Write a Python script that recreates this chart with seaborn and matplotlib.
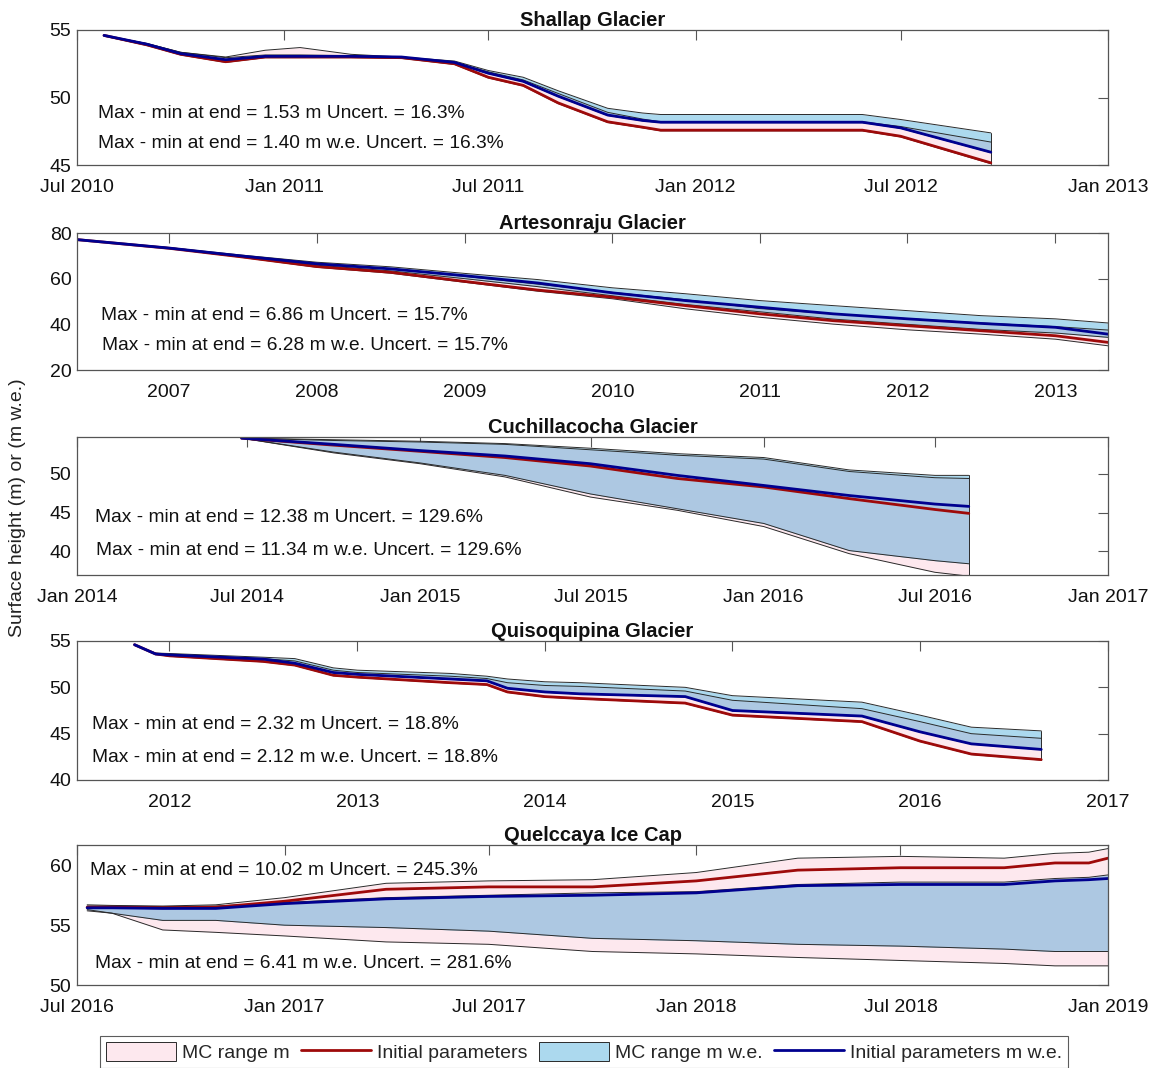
import numpy as np
import pandas as pd
import matplotlib
matplotlib.use("Agg")
import matplotlib.pyplot as plt
import matplotlib.dates as mdates
from matplotlib.patches import Patch
from matplotlib.lines import Line2D
import seaborn as sns

sns.set_theme(style="white")
plt.rcParams["font.family"] = ["Liberation Sans", "DejaVu Sans"]

# ---------------- data ----------------
# Shallap Glacier
shallap_dates = ["2010-07-25", "2010-09-01", "2010-10-01", "2010-11-10", "2010-12-15", "2011-01-15",
                 "2011-03-01", "2011-04-15", "2011-06-01", "2011-07-01", "2011-08-01", "2011-09-01",
                 "2011-10-15", "2011-11-15", "2011-12-01", "2012-05-28", "2012-07-01", "2012-09-19"]
shallap_m_init = [54.6, 53.9, 53.2, 52.65, 53.0, 53.0, 53.0, 52.95, 52.5, 51.5, 50.9, 49.6, 48.2, 47.8, 47.58, 47.58, 47.13, 45.16]
shallap_m_lo = [54.55, 53.85, 53.15, 52.6, 52.95, 52.95, 52.95, 52.9, 52.45, 51.45, 50.85, 49.55, 48.15, 47.75, 47.53, 47.53, 47.08, 45.1]
shallap_m_hi = [54.6, 54.0, 53.35, 53.0, 53.5, 53.7, 53.2, 53.0, 52.6, 51.9, 51.3, 50.3, 48.9, 48.4, 48.2, 48.2, 47.85, 46.7]
shallap_mwe_init = [54.6, 53.95, 53.25, 52.8, 53.05, 53.05, 53.05, 53.0, 52.6, 51.8, 51.2, 50.1, 48.7, 48.3, 48.17, 48.17, 47.75, 45.95]
shallap_mwe_lo = [54.57, 53.92, 53.22, 52.77, 53.02, 53.02, 53.02, 52.97, 52.57, 51.77, 51.17, 50.07, 48.67, 48.27, 48.14, 48.14, 47.72, 45.92]
shallap_mwe_hi = [54.6, 54.0, 53.35, 52.95, 53.15, 53.15, 53.1, 53.0, 52.7, 52.0, 51.5, 50.5, 49.2, 48.85, 48.74, 48.74, 48.37, 47.38]

# Artesonraju Glacier
artes_dates = ["2006-05-18", "2007-01-01", "2007-07-01", "2008-01-01", "2008-07-01", "2009-01-01", "2009-07-01",
               "2010-01-01", "2010-07-01", "2011-01-01", "2011-07-01", "2012-01-01", "2012-07-01", "2013-01-01", "2013-05-11"]
artes_m_init = [77.1, 73.3, 69.5, 65.3, 62.8, 58.8, 55.0, 51.9, 48.2, 44.6, 41.6, 39.4, 37.2, 35.0, 32.1]
artes_m_lo = [77.1, 73.2, 69.3, 65.0, 62.4, 58.4, 54.5, 51.2, 46.8, 43.1, 40.1, 37.6, 35.7, 33.5, 30.6]
artes_m_hi = [77.1, 73.5, 70.0, 66.8, 64.3, 61.0, 57.6, 54.0, 50.8, 46.9, 44.6, 42.5, 40.6, 39.0, 37.5]
artes_mwe_init = [77.1, 73.4, 69.9, 66.5, 64.3, 61.3, 58.1, 53.8, 50.4, 47.5, 44.6, 42.4, 40.4, 38.7, 35.7]
artes_mwe_lo = [77.1, 73.3, 69.6, 65.9, 63.4, 60.0, 56.5, 52.5, 48.7, 45.5, 42.3, 40.0, 37.8, 36.2, 34.3]
artes_mwe_hi = [77.1, 73.6, 70.3, 67.2, 65.2, 62.3, 59.6, 56.0, 53.4, 50.4, 48.2, 46.0, 43.8, 42.4, 40.6]

# Cuchillacocha Glacier
cuchi_dates = ["2014-06-25", "2014-10-01", "2015-01-01", "2015-04-01", "2015-07-01", "2015-10-01",
               "2016-01-01", "2016-04-01", "2016-07-01", "2016-08-06"]
cuchi_m_init = [54.6, 53.7, 52.9, 52.1, 51.0, 49.4, 48.3, 46.8, 45.4, 44.9]
cuchi_m_lo = [54.6, 52.7, 51.3, 49.6, 47.0, 45.3, 43.2, 39.7, 37.3, 36.8]
cuchi_m_hi = [54.6, 54.3, 54.1, 53.8, 53.1, 52.4, 51.9, 50.3, 49.5, 49.4]
cuchi_mwe_init = [54.6, 53.8, 53.0, 52.3, 51.3, 49.8, 48.5, 47.2, 46.1, 45.8]
cuchi_mwe_lo = [54.6, 52.8, 51.4, 49.8, 47.4, 45.5, 43.6, 40.1, 38.8, 38.4]
cuchi_mwe_hi = [54.6, 54.4, 54.2, 53.9, 53.3, 52.6, 52.1, 50.5, 49.8, 49.8]

# Quisoquipina Glacier
quiso_dates = ["2011-10-25", "2011-12-05", "2012-01-01", "2012-07-01", "2012-09-01", "2012-11-15",
               "2013-01-01", "2013-07-01", "2013-09-10", "2013-10-20", "2014-01-01", "2014-03-10",
               "2014-10-01", "2015-01-01", "2015-09-10", "2016-01-01", "2016-04-10", "2016-08-24"]
quiso_m_init = [54.6, 53.6, 53.4, 52.8, 52.4, 51.3, 51.1, 50.5, 50.3, 49.5, 49.0, 48.8, 48.3, 47.0, 46.3, 44.2, 42.8, 42.2]
quiso_m_lo = [54.55, 53.55, 53.35, 52.75, 52.35, 51.25, 51.05, 50.45, 50.25, 49.45, 48.95, 48.75, 48.25, 46.95, 46.25, 44.15, 42.75, 42.15]
quiso_m_hi = [54.6, 53.65, 53.55, 53.1, 52.85, 51.85, 51.6, 51.2, 50.95, 50.5, 50.2, 50.1, 49.6, 48.6, 47.7, 46.3, 45.0, 44.5]
quiso_mwe_init = [54.6, 53.6, 53.5, 53.05, 52.6, 51.6, 51.4, 50.9, 50.7, 49.9, 49.5, 49.3, 49.0, 47.5, 46.9, 45.2, 43.9, 43.3]
quiso_mwe_lo = [54.57, 53.57, 53.47, 53.02, 52.57, 51.57, 51.37, 50.87, 50.67, 49.87, 49.47, 49.27, 48.97, 47.47, 46.87, 45.17, 43.87, 43.27]
quiso_mwe_hi = [54.6, 53.7, 53.65, 53.25, 53.1, 52.1, 51.85, 51.5, 51.2, 50.9, 50.6, 50.5, 50.0, 49.1, 48.4, 47.0, 45.7, 45.3]

# Quelccaya Ice Cap
quelc_dates = ["2016-07-10", "2016-08-01", "2016-09-15", "2016-11-01", "2017-01-01", "2017-04-01", "2017-07-01",
               "2017-10-01", "2018-01-01", "2018-04-01", "2018-07-01", "2018-10-01", "2018-11-15", "2018-12-15", "2019-01-01"]
quelc_m_init = [56.5, 56.5, 56.45, 56.5, 57.0, 58.0, 58.2, 58.2, 58.7, 59.6, 59.8, 59.8, 60.2, 60.2, 60.6]
quelc_m_lo = [56.2, 56.0, 54.6, 54.4, 54.1, 53.6, 53.4, 52.8, 52.6, 52.3, 52.05, 51.8, 51.6, 51.6, 51.6]
quelc_m_hi = [56.7, 56.65, 56.6, 56.7, 57.3, 58.5, 58.7, 58.8, 59.4, 60.6, 60.75, 60.6, 61.0, 61.1, 61.4]
quelc_mwe_init = [56.45, 56.45, 56.4, 56.4, 56.8, 57.2, 57.4, 57.5, 57.7, 58.3, 58.4, 58.4, 58.7, 58.8, 58.9]
quelc_mwe_lo = [56.3, 56.0, 55.4, 55.4, 55.0, 54.8, 54.5, 53.9, 53.7, 53.4, 53.25, 53.0, 52.8, 52.8, 52.8]
quelc_mwe_hi = [56.6, 56.6, 56.55, 56.6, 56.9, 57.3, 57.5, 57.7, 57.8, 58.4, 58.6, 58.6, 58.9, 59.0, 59.2]

titles = ["Shallap Glacier", "Artesonraju Glacier", "Cuchillacocha Glacier", "Quisoquipina Glacier", "Quelccaya Ice Cap"]
notes_m = ["Max - min at end = 1.53 m Uncert. = 16.3%", "Max - min at end = 6.86 m Uncert. = 15.7%",
           "Max - min at end = 12.38 m Uncert. = 129.6%", "Max - min at end = 2.32 m Uncert. = 18.8%",
           "Max - min at end = 10.02 m Uncert. = 245.3%"]
notes_mwe = ["Max - min at end = 1.40 m w.e. Uncert. = 16.3%", "Max - min at end = 6.28 m w.e. Uncert. = 15.7%",
             "Max - min at end = 11.34 m w.e. Uncert. = 129.6%", "Max - min at end = 2.12 m w.e. Uncert. = 18.8%",
             "Max - min at end = 6.41 m w.e. Uncert. = 281.6%"]
legend_labels = ["MC range m", "Initial parameters", "MC range m w.e.", "Initial parameters m w.e."]

# ---------------- style ----------------
PINK = "#fde8ee"
LBLUE = "#acd9ee"
OVER = "#adc8e2"
RED = "#9e0a0a"
NAVY = "#00008f"
EDGE = "#2a2a2a"
AXC = "#555555"

panels = [
    dict(d=shallap_dates, mi=shallap_m_init, ml=shallap_m_lo, mh=shallap_m_hi,
         wi=shallap_mwe_init, wl=shallap_mwe_lo, wh=shallap_mwe_hi,
         xlim=("2010-07-01", "2013-01-01"), ylim=(45, 55), yt=[45, 50, 55], kind="month",
         t1=(0.020, 0.378), t2=(0.020, 0.156)),
    dict(d=artes_dates, mi=artes_m_init, ml=artes_m_lo, mh=artes_m_hi,
         wi=artes_mwe_init, wl=artes_mwe_lo, wh=artes_mwe_hi,
         xlim=("2006-05-18", "2013-05-11"), ylim=(20, 80), yt=[20, 40, 60, 80], kind="year",
         t1=(0.023, 0.40), t2=(0.024, 0.18)),
    dict(d=cuchi_dates, mi=cuchi_m_init, ml=cuchi_m_lo, mh=cuchi_m_hi,
         wi=cuchi_mwe_init, wl=cuchi_mwe_lo, wh=cuchi_mwe_hi,
         xlim=("2014-01-01", "2017-01-01"), ylim=(36.95, 54.75), yt=[40, 45, 50], kind="month",
         t1=(0.017, 0.42), t2=(0.018, 0.18)),
    dict(d=quiso_dates, mi=quiso_m_init, ml=quiso_m_lo, mh=quiso_m_hi,
         wi=quiso_mwe_init, wl=quiso_mwe_lo, wh=quiso_mwe_hi,
         xlim=("2011-07-05", "2017-01-01"), ylim=(40, 55), yt=[40, 45, 50, 55], kind="year",
         t1=(0.015, 0.40), t2=(0.015, 0.165)),
    dict(d=quelc_dates, mi=quelc_m_init, ml=quelc_m_lo, mh=quelc_m_hi,
         wi=quelc_mwe_init, wl=quelc_mwe_lo, wh=quelc_mwe_hi,
         xlim=("2016-07-01", "2019-01-01"), ylim=(50, 61.7), yt=[50, 55, 60], kind="month",
         t1=(0.013, 0.82), t2=(0.017, 0.157)),
]

W, H = 1156, 1068
fig = plt.figure(figsize=(W / 100, H / 100), dpi=100)
boxes = [(30, 165), (233, 370), (437, 575), (641, 780), (845, 985)]
left, right = 77, 1108

for i, (p, (top, bot)) in enumerate(zip(panels, boxes)):
    ax = fig.add_axes([left / W, 1 - bot / H, (right - left) / W, (bot - top) / H])
    d = pd.to_datetime(p["d"])
    ml, mh = np.array(p["ml"]), np.array(p["mh"])
    wl, wh = np.array(p["wl"]), np.array(p["wh"])
    ax.fill_between(d, ml, mh, color=PINK, lw=0, zorder=1)
    ax.fill_between(d, wl, wh, color=LBLUE, lw=0, zorder=2)
    olo, ohi = np.maximum(ml, wl), np.minimum(mh, wh)
    ax.fill_between(d, olo, ohi, where=ohi > olo, interpolate=True, color=OVER, lw=0, zorder=3)
    for arr in (ml, mh, wl, wh):
        ax.plot(d, arr, color=EDGE, lw=0.7, zorder=4)
    ax.plot([d[-1], d[-1]], [min(ml[-1], wl[-1]), max(mh[-1], wh[-1])], color=EDGE, lw=0.7, zorder=4)
    sns.lineplot(x=d, y=p["mi"], ax=ax, color=RED, lw=2.0, zorder=5)
    sns.lineplot(x=d, y=p["wi"], ax=ax, color=NAVY, lw=2.0, zorder=6)

    ax.set_xlim(pd.Timestamp(p["xlim"][0]), pd.Timestamp(p["xlim"][1]))
    ax.set_ylim(*p["ylim"])
    ax.set_yticks(p["yt"])
    if p["kind"] == "month":
        ax.xaxis.set_major_locator(mdates.MonthLocator(bymonth=[1, 7]))
        ax.xaxis.set_major_formatter(mdates.DateFormatter("%b %Y"))
    else:
        ax.xaxis.set_major_locator(mdates.YearLocator())
        ax.xaxis.set_major_formatter(mdates.DateFormatter("%Y"))
    ax.set_xlabel("")
    ax.set_ylabel("")
    ax.tick_params(axis="both", direction="in", length=7, width=0.8, color=AXC,
                   labelsize=14, labelcolor="#111111", top=True, right=True)
    ax.tick_params(axis="x", pad=10)
    ax.tick_params(axis="y", pad=4)
    for s in ax.spines.values():
        s.set_color(AXC)
        s.set_linewidth(0.9)
        s.set_zorder(10)
    ax.set_title(titles[i], fontsize=14.5, fontweight="bold", pad=3, color="#111111")
    ax.text(*p["t1"], notes_m[i], transform=ax.transAxes, fontsize=13.8, va="center", ha="left",
            zorder=20, color="#111111")
    ax.text(*p["t2"], notes_mwe[i], transform=ax.transAxes, fontsize=13.8, va="center", ha="left",
            zorder=20, color="#111111")

fig.text(18 / W, 1 - 508 / H, "Surface height (m) or (m w.e.)", rotation=90, fontsize=14,
         va="center", ha="center", color="#222222")

handles = [Patch(facecolor=PINK, edgecolor=EDGE, lw=0.7),
           Line2D([0], [0], color=RED, lw=2),
           Patch(facecolor=LBLUE, edgecolor=EDGE, lw=0.7),
           Line2D([0], [0], color=NAVY, lw=2)]
leg = fig.legend(handles, legend_labels, loc="center", bbox_to_anchor=(584 / W, 1 - 1052 / H), ncol=4,
                 frameon=True, fancybox=False, edgecolor="#333333", handlelength=3.6, handleheight=1.1,
                 handletextpad=0.3, columnspacing=0.6, borderpad=0.3,
                 prop={"family": ["Liberation Sans Narrow", "Liberation Sans"], "size": 14})
leg.get_frame().set_linewidth(0.8)

fig.savefig("out.png", dpi=100, facecolor="white")
